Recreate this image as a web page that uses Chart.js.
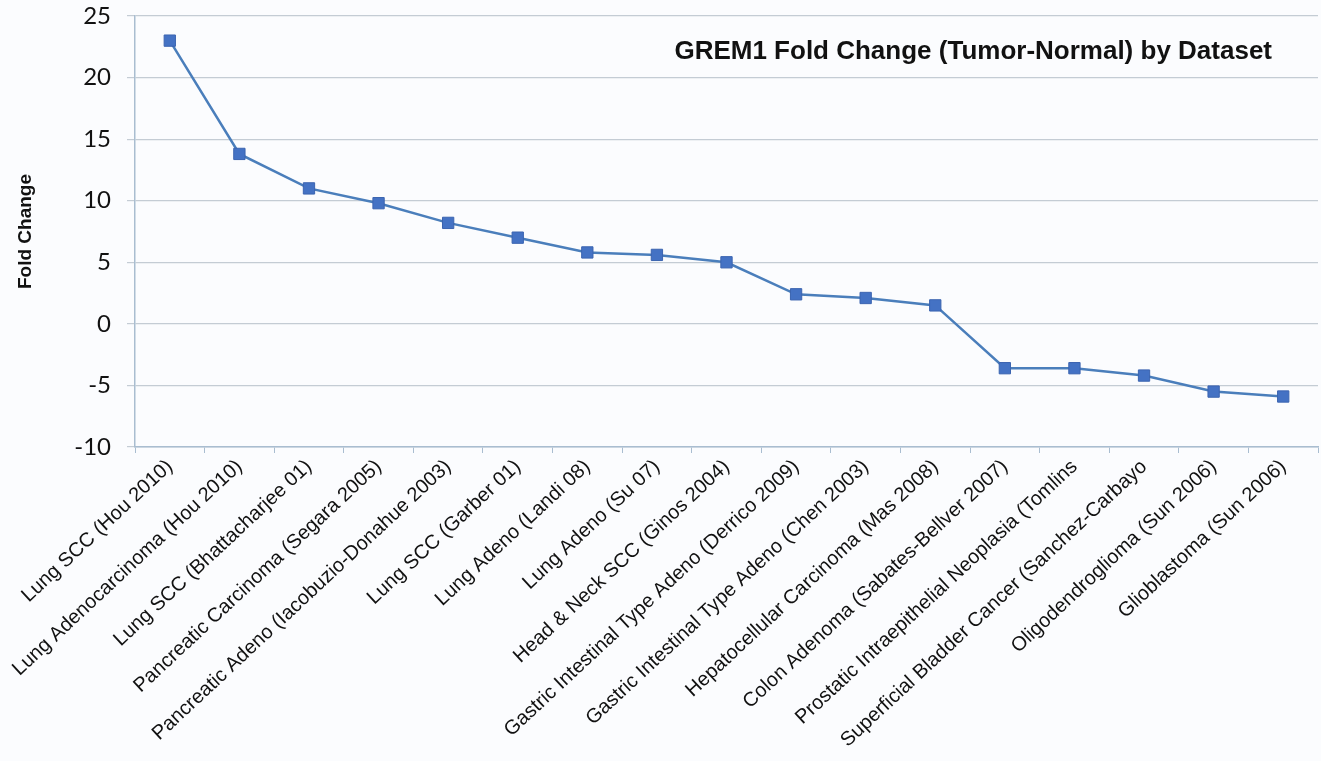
<!DOCTYPE html>
<html>
<head>
<meta charset="utf-8">
<script src="https://cdn.jsdelivr.net/npm/chart.js@4.4.1/dist/chart.umd.min.js"></script>
<style>
  html, body { margin: 0; padding: 0; background: #fbfcfe; overflow: hidden; }
  #wrap { width: 1321px; height: 761px; position: relative; }
</style>
</head>
<body>
<div id="wrap"><canvas id="grem1-chart" width="1321" height="761"></canvas></div>
<script>
// ─── Data ─────────────────────────────────────────────────────
const datasets = [
  'Lung SCC (Hou 2010)',
  'Lung Adenocarcinoma (Hou 2010)',
  'Lung SCC (Bhattacharjee 01)',
  'Pancreatic Carcinoma (Segara 2005)',
  'Pancreatic Adeno (Iacobuzio-Donahue 2003)',
  'Lung SCC (Garber 01)',
  'Lung Adeno (Landi 08)',
  'Lung Adeno (Su 07)',
  'Head & Neck SCC (Ginos 2004)',
  'Gastric Intestinal Type Adeno (Derrico 2009)',
  'Gastric Intestinal Type Adeno (Chen 2003)',
  'Hepatocellular Carcinoma (Mas 2008)',
  'Colon Adenoma (Sabates-Bellver 2007)',
  'Prostatic Intraepithelial Neoplasia (Tomlins',
  'Superficial Bladder Cancer (Sanchez-Carbayo',
  'Oligodendroglioma (Sun 2006)',
  'Glioblastoma (Sun 2006)',
];
const foldChange = [23.0, 13.8, 11.0, 9.8, 8.2, 7.0, 5.8, 5.6, 5.0, 2.4, 2.1, 1.5, -3.6, -3.6, -4.2, -5.5, -5.9];
const yTicks = [-10, -5, 0, 5, 10, 15, 20, 25];
const chartTitle = 'GREM1 Fold Change (Tumor-Normal) by Dataset';

// ─── Title drawn inside the plot area ─────────────────────────
const innerTitle = {
  id: 'innerTitle',
  afterDraw(chart) {
    const { ctx, chartArea } = chart;
    ctx.save();
    ctx.font = 'bold 26px "Liberation Sans", Arial, sans-serif';
    ctx.fillStyle = '#111';
    ctx.textAlign = 'right';
    ctx.textBaseline = 'middle';
    ctx.fillText(chartTitle, chartArea.right - 46, chartArea.top + 36);
    ctx.restore();
  },
};

const ctx = document.getElementById('grem1-chart').getContext('2d');
new Chart(ctx, {
  type: 'line',
  data: {
    labels: datasets,
    datasets: [{
      label: 'Fold Change',
      data: foldChange,
      borderColor: '#4a7ebb',
      borderWidth: 2.5,
      backgroundColor: '#4472c4',
      pointStyle: 'rect',
      pointRadius: 8,
      pointBorderColor: '#3b64b0',
      pointBorderWidth: 1,
      pointBackgroundColor: '#4472c4',
      tension: 0,
      fill: false,
    }],
  },
  options: {
    responsive: false,
    animation: false,
    layout: { autoPadding: false, padding: { top: 16, right: 3, left: 14, bottom: 0 } },
    plugins: {
      legend: { display: false },
      tooltip: { enabled: false },
    },
    scales: {
      x: {
        type: 'category',
        offset: true,
        border: { display: true, color: '#a9bdd0', width: 1.5 },
        grid: {
          offset: true,
          drawOnChartArea: false,
          drawTicks: true,
          tickLength: 6,
          color: '#a9bdd0',
        },
        ticks: {
          autoSkip: false,
          minRotation: 43,
          maxRotation: 43,
          padding: 2,
          color: '#111',
          font: { family: '"Liberation Sans", Arial, sans-serif', size: 20 },
        },
        afterFit: s => {
          s.height = 314;
          s.paddingLeft = 0;
          s.paddingRight = 0;
        },
      },
      y: {
        min: -10,
        max: 25,
        afterBuildTicks: s => { s.ticks = yTicks.map(v => ({ value: v })); },
        border: { display: true, color: '#a9bdd0', width: 1.5 },
        grid: {
          color: '#c4ccd4',
          lineWidth: 1.2,
          drawTicks: true,
          tickLength: 8,
        },
        ticks: {
          padding: 16,
          color: '#111',
          font: { family: 'Lato, "Open Sans", sans-serif', size: 24 },
        },
        title: {
          display: true,
          text: 'Fold Change',
          color: '#111',
          padding: { top: 0, bottom: 0 },
          font: { family: '"Liberation Sans", Arial, sans-serif', size: 19, weight: 'bold' },
        },
        afterFit: s => {
          s.width = 121;
          s.paddingTop = 0;
          s.paddingBottom = 0;
        },
      },
    },
  },
  plugins: [innerTitle],
});
</script>
</body>
</html>
